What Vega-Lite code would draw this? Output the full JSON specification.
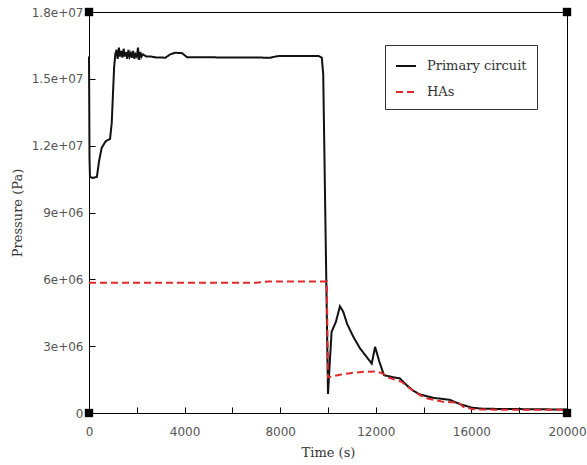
{
  "$schema": "https://vega.github.io/schema/vega-lite/v6.json",
  "autosize": "none",
  "width": 478,
  "height": 401,
  "padding": {"left": 89, "top": 12, "right": 20, "bottom": 52},
  "background": "white",
  "config": {
    "view": {"stroke": "black", "strokeWidth": 1},
    "font": "DejaVu Serif",
    "axis": {
      "domainColor": "black",
      "tickColor": "black",
      "tickSize": -6,
      "labelColor": "#555",
      "labelFont": "DejaVu Sans",
      "labelFontSize": 12,
      "titleFont": "DejaVu Serif",
      "titleFontSize": 13,
      "titleFontWeight": "normal",
      "titleColor": "#333",
      "grid": false
    }
  },
  "datasets": {
    "series": [
      {"t": 0, "p": 16000000, "s": "Primary circuit"},
      {"t": 10, "p": 14000000, "s": "Primary circuit"},
      {"t": 20, "p": 11500000, "s": "Primary circuit"},
      {"t": 40, "p": 10600000, "s": "Primary circuit"},
      {"t": 150, "p": 10550000, "s": "Primary circuit"},
      {"t": 330, "p": 10600000, "s": "Primary circuit"},
      {"t": 420, "p": 11300000, "s": "Primary circuit"},
      {"t": 530, "p": 11900000, "s": "Primary circuit"},
      {"t": 700, "p": 12200000, "s": "Primary circuit"},
      {"t": 880, "p": 12300000, "s": "Primary circuit"},
      {"t": 950, "p": 13000000, "s": "Primary circuit"},
      {"t": 1050, "p": 15500000, "s": "Primary circuit"},
      {"t": 1100, "p": 16100000, "s": "Primary circuit"},
      {"t": 1150, "p": 16300000, "s": "Primary circuit"},
      {"t": 1200, "p": 15900000, "s": "Primary circuit"},
      {"t": 1250, "p": 16400000, "s": "Primary circuit"},
      {"t": 1300, "p": 16000000, "s": "Primary circuit"},
      {"t": 1350, "p": 16250000, "s": "Primary circuit"},
      {"t": 1400, "p": 15950000, "s": "Primary circuit"},
      {"t": 1450, "p": 16350000, "s": "Primary circuit"},
      {"t": 1500, "p": 16000000, "s": "Primary circuit"},
      {"t": 1550, "p": 16200000, "s": "Primary circuit"},
      {"t": 1600, "p": 15900000, "s": "Primary circuit"},
      {"t": 1650, "p": 16300000, "s": "Primary circuit"},
      {"t": 1700, "p": 16000000, "s": "Primary circuit"},
      {"t": 1750, "p": 16150000, "s": "Primary circuit"},
      {"t": 1800, "p": 15950000, "s": "Primary circuit"},
      {"t": 1850, "p": 16250000, "s": "Primary circuit"},
      {"t": 1900, "p": 15900000, "s": "Primary circuit"},
      {"t": 1950, "p": 16100000, "s": "Primary circuit"},
      {"t": 2000, "p": 16000000, "s": "Primary circuit"},
      {"t": 2050, "p": 16400000, "s": "Primary circuit"},
      {"t": 2100, "p": 15850000, "s": "Primary circuit"},
      {"t": 2150, "p": 16200000, "s": "Primary circuit"},
      {"t": 2200, "p": 16000000, "s": "Primary circuit"},
      {"t": 2260, "p": 16100000, "s": "Primary circuit"},
      {"t": 2400, "p": 16000000, "s": "Primary circuit"},
      {"t": 2600, "p": 16000000, "s": "Primary circuit"},
      {"t": 2800, "p": 15960000, "s": "Primary circuit"},
      {"t": 3200, "p": 15950000, "s": "Primary circuit"},
      {"t": 3400, "p": 16100000, "s": "Primary circuit"},
      {"t": 3600, "p": 16170000, "s": "Primary circuit"},
      {"t": 3900, "p": 16150000, "s": "Primary circuit"},
      {"t": 4100, "p": 15970000, "s": "Primary circuit"},
      {"t": 7600, "p": 15950000, "s": "Primary circuit"},
      {"t": 7800, "p": 16000000, "s": "Primary circuit"},
      {"t": 8000, "p": 16030000, "s": "Primary circuit"},
      {"t": 9600, "p": 16030000, "s": "Primary circuit"},
      {"t": 9740, "p": 15950000, "s": "Primary circuit"},
      {"t": 9800, "p": 15200000, "s": "Primary circuit"},
      {"t": 9900, "p": 8000000, "s": "Primary circuit"},
      {"t": 10000, "p": 850000, "s": "Primary circuit"},
      {"t": 10060, "p": 2000000, "s": "Primary circuit"},
      {"t": 10150, "p": 3640000, "s": "Primary circuit"},
      {"t": 10330, "p": 4090000, "s": "Primary circuit"},
      {"t": 10500, "p": 4790000, "s": "Primary circuit"},
      {"t": 10640, "p": 4540000, "s": "Primary circuit"},
      {"t": 10800, "p": 4000000, "s": "Primary circuit"},
      {"t": 11060, "p": 3420000, "s": "Primary circuit"},
      {"t": 11340, "p": 2900000, "s": "Primary circuit"},
      {"t": 11830, "p": 2220000, "s": "Primary circuit"},
      {"t": 11970, "p": 2970000, "s": "Primary circuit"},
      {"t": 12150, "p": 2300000, "s": "Primary circuit"},
      {"t": 12340, "p": 1700000, "s": "Primary circuit"},
      {"t": 12660, "p": 1620000, "s": "Primary circuit"},
      {"t": 13010, "p": 1550000, "s": "Primary circuit"},
      {"t": 13290, "p": 1250000, "s": "Primary circuit"},
      {"t": 13570, "p": 1000000, "s": "Primary circuit"},
      {"t": 13850, "p": 830000, "s": "Primary circuit"},
      {"t": 14410, "p": 680000, "s": "Primary circuit"},
      {"t": 15100, "p": 590000, "s": "Primary circuit"},
      {"t": 15520, "p": 400000, "s": "Primary circuit"},
      {"t": 16010, "p": 240000, "s": "Primary circuit"},
      {"t": 16500, "p": 190000, "s": "Primary circuit"},
      {"t": 17500, "p": 180000, "s": "Primary circuit"},
      {"t": 18500, "p": 170000, "s": "Primary circuit"},
      {"t": 19500, "p": 160000, "s": "Primary circuit"},
      {"t": 20000, "p": 160000, "s": "Primary circuit"},
      {"t": 0, "p": 5850000, "s": "HAs"},
      {"t": 7000, "p": 5850000, "s": "HAs"},
      {"t": 7500, "p": 5900000, "s": "HAs"},
      {"t": 9950, "p": 5900000, "s": "HAs"},
      {"t": 10000, "p": 1600000, "s": "HAs"},
      {"t": 10500, "p": 1720000, "s": "HAs"},
      {"t": 11000, "p": 1800000, "s": "HAs"},
      {"t": 11500, "p": 1850000, "s": "HAs"},
      {"t": 12000, "p": 1860000, "s": "HAs"},
      {"t": 12250, "p": 1800000, "s": "HAs"},
      {"t": 12500, "p": 1600000, "s": "HAs"},
      {"t": 13080, "p": 1400000, "s": "HAs"},
      {"t": 13430, "p": 1100000, "s": "HAs"},
      {"t": 13850, "p": 800000, "s": "HAs"},
      {"t": 14130, "p": 660000, "s": "HAs"},
      {"t": 14830, "p": 500000, "s": "HAs"},
      {"t": 15450, "p": 470000, "s": "HAs"},
      {"t": 15660, "p": 280000, "s": "HAs"},
      {"t": 16080, "p": 165000, "s": "HAs"},
      {"t": 17000, "p": 150000, "s": "HAs"},
      {"t": 20000, "p": 150000, "s": "HAs"}
    ],
    "corners": [
      {"t": 0, "p": 0},
      {"t": 0, "p": 18000000},
      {"t": 20000, "p": 0},
      {"t": 20000, "p": 18000000}
    ]
  },
  "layer": [
    {
      "data": {"name": "series"},
      "mark": {"type": "line", "strokeWidth": 2},
      "encoding": {
        "x": {
          "field": "t", "type": "quantitative",
          "scale": {"domain": [0, 20000], "nice": false},
          "axis": {
            "title": "Time (s)",
            "values": [0, 2000, 4000, 6000, 8000, 10000, 12000, 14000, 16000, 18000, 20000],
            "labelExpr": "datum.value % 4000 === 0 ? datum.value + '' : ''",
            "labelPadding": 19,
            "titlePadding": 9,
            "labelFlush": false
          }
        },
        "y": {
          "field": "p", "type": "quantitative",
          "scale": {"domain": [0, 18000000], "nice": false},
          "axis": {
            "title": "Pressure (Pa)",
            "values": [0, 1500000, 3000000, 4500000, 6000000, 7500000, 9000000, 10500000, 12000000, 13500000, 15000000, 16500000, 18000000],
            "labelExpr": "datum.value === 0 ? '0' : (datum.value % 3000000 === 0 ? replace(format(datum.value, '~e'), 'e+', 'e+0') : '')",
            "labelPadding": 12,
            "titlePadding": 7,
            "labelFlush": false
          }
        },
        "color": {
          "field": "s", "type": "nominal",
          "scale": {"domain": ["Primary circuit", "HAs"], "range": ["#111111", "#e0292b"]},
          "legend": {
            "title": null,
            "orient": "none",
            "legendX": 296,
            "legendY": 33,
            "padding": 10,
            "strokeColor": "#333",
            "fillColor": "white",
            "symbolType": "stroke",
            "symbolSize": 400,
            "symbolStrokeWidth": 2,
            "labelFontSize": 13,
            "labelFont": "DejaVu Serif",
            "labelColor": "#333",
            "rowPadding": 8,
            "labelOffset": 10
          }
        },
        "strokeDash": {
          "field": "s", "type": "nominal",
          "scale": {"domain": ["Primary circuit", "HAs"], "range": [[1, 0], [7, 4]]},
          "legend": null
        }
      }
    },
    {
      "data": {"name": "corners"},
      "mark": {"type": "point", "shape": "square", "filled": true, "size": 70, "color": "black", "opacity": 1, "clip": false},
      "encoding": {
        "x": {"field": "t", "type": "quantitative"},
        "y": {"field": "p", "type": "quantitative"}
      }
    }
  ]
}
